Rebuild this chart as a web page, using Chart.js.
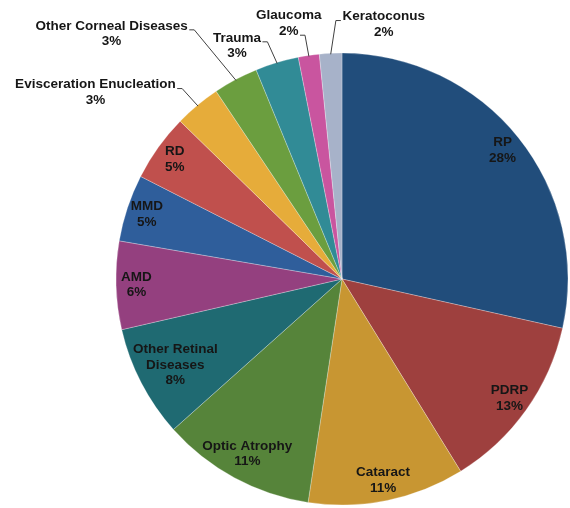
<!DOCTYPE html>
<html><head><meta charset="utf-8">
<script src="https://cdn.jsdelivr.net/npm/chart.js@4/dist/chart.umd.min.js"></script>
<style>html,body{margin:0;padding:0;background:#fff;overflow:hidden}#wrap{width:570px;height:508px;position:relative}</style>
</head><body><div id="wrap"><canvas id="c"></canvas></div>
<script>
const categories = ['RP','PDRP','Cataract','Optic Atrophy','Other Retinal Diseases','AMD','MMD','RD','Evisceration Enucleation','Other Corneal Diseases','Trauma','Glaucoma','Keratoconus'];
const shares = [28.5,12.7,11.2,11.0,8.0,6.3,4.8,4.8,3.3,3.2,3.1,1.5,1.6];
const percentLabels = ['28%','13%','11%','11%','8%','6%','5%','5%','3%','3%','3%','2%','2%'];
const sliceColors = ['#214d7b','#9e403e','#c89632','#56843a','#1f6a72','#94407f','#2f5e9b','#c0504d','#e6ac3a','#6b9e3f','#318b96','#c9559f','#a7b2c9'];

// label layout (not data): outside labels offset from slice edge midpoint
const outsideLayout = {
  8:{dx:-102,dy:-13,side:'right',line:0},
  9:{dx:-124,dy:-46,side:'right',line:0},
  10:{dx:-40,dy:-17,side:'right',line:0},
  11:{dx:-20,dy:-32,side:'right',line:1},
  12:{dx:53,dy:-29,side:'left',line:0}
};
const FONT = 'bold 13.5px "Liberation Sans", Arial, sans-serif';
const LH = 15.5;

function wrap(ctx, text, maxW){
  const words = text.split(' '); const lines=[]; let cur='';
  for(const w of words){
    const t = cur ? cur+' '+w : w;
    if(cur && ctx.measureText(t).width > maxW){ lines.push(cur); cur=w; } else cur=t;
  }
  if(cur) lines.push(cur);
  return lines;
}

const labelPlugin = {
  id:'pieLabels',
  afterDatasetsDraw(chart){
    const ctx = chart.ctx; const meta = chart.getDatasetMeta(0);
    ctx.save(); ctx.font = FONT; ctx.fillStyle = '#161616'; ctx.textAlign='center'; ctx.textBaseline='middle';
    meta.data.forEach((arc,i)=>{
      const p = arc.getProps(['x','y','startAngle','endAngle','outerRadius'], true);
      const mid = (p.startAngle+p.endAngle)/2, R = p.outerRadius;
      const cs = Math.cos(mid), sn = Math.sin(mid);
      const lay = outsideLayout[i];
      if(!lay){
        const lines = wrap(ctx, categories[i], 100).concat([percentLabels[i]]);
        const w = Math.max(...lines.map(l=>ctx.measureText(l).width));
        const h = lines.length*LH;
        let lo=0, hi=0.91*R;
        const fits = d=>{
          const cx=cs*d, cy=sn*d;
          const ex=Math.abs(cx)+w/2, ey=Math.abs(cy)+h/2;
          return Math.hypot(ex,ey) <= R+10;
        };
        let d = hi;
        if(!fits(hi)){ for(let k=0;k<40;k++){ const m=(lo+hi)/2; if(fits(m)) lo=m; else hi=m; } d=lo; }
        const cx = p.x+cs*d, cy = p.y+sn*d;
        lines.forEach((l,k)=>ctx.fillText(l, cx, cy+(k-(lines.length-1)/2)*LH));
      } else {
        const lines = [categories[i], percentLabels[i]];
        const ex = p.x+cs*R, ey = p.y+sn*R;
        const cx = ex+lay.dx, cy = ey+lay.dy;
        lines.forEach((l,k)=>ctx.fillText(l, cx, cy+(k-(lines.length-1)/2)*LH));
        const wl = ctx.measureText(lines[lay.line]).width;
        const ay = cy+(lay.line-(lines.length-1)/2)*LH+4;
        let ax, bx;
        if(lay.side==='right'){ ax = cx+wl/2+1.5; bx = ax+5; } else { ax = cx-wl/2-1.5; bx = ax-5; }
        ctx.beginPath(); ctx.strokeStyle='#404040'; ctx.lineWidth=1;
        ctx.moveTo(ax,ay); ctx.lineTo(bx,ay); ctx.lineTo(p.x+cs*(R-1), p.y+sn*(R-1)); ctx.stroke();
      }
    });
    ctx.restore();
  }
};

new Chart(document.getElementById('c'), {
  type:'pie',
  data:{ labels:categories, datasets:[{ data:shares, backgroundColor:sliceColors, borderWidth:0.6, borderColor:'rgba(255,255,255,0.45)' }] },
  options:{
    responsive:true, maintainAspectRatio:false, animation:false,
    radius:226,
    layout:{ padding:{ left:116, right:2, top:53, bottom:3 } },
    plugins:{ legend:{display:false}, tooltip:{enabled:false} }
  },
  plugins:[labelPlugin]
});
</script>
</body></html>
